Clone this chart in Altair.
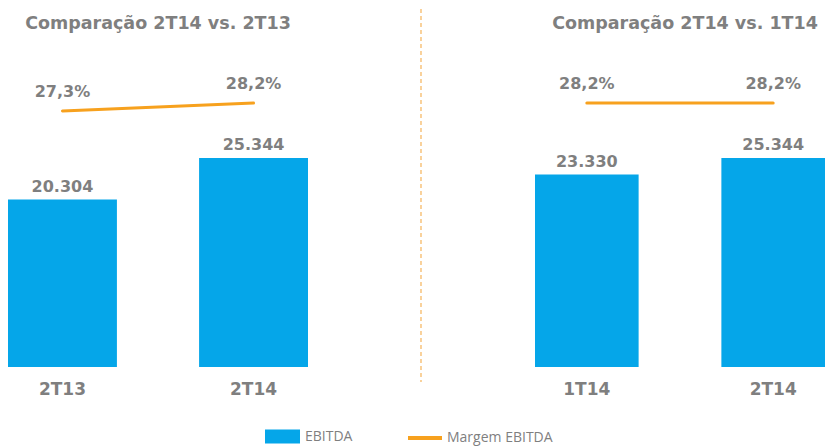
import altair as alt
import pandas as pd

# ---- data ----
left_title = "Comparação 2T14 vs. 2T13"
left_cats = ["2T13", "2T14"]
left_ebitda = [20304, 25344]
left_margem = [27.3, 28.2]

right_title = "Comparação 2T14 vs. 1T14"
right_cats = ["1T14", "2T14"]
right_ebitda = [23330, 25344]
right_margem = [28.2, 28.2]

series = ["EBITDA", "Margem EBITDA"]

BLUE = "#05A6E9"
ORANGE = "#F7A11E"
GRAY = "#7f7f7f"
FONT = "DejaVu Sans"

BAR_DOMAIN = [0, 37109]
LINE_DOMAIN = [-1.46, 32.92]
PLOT_H = 306

RECT = "M-1,-0.4L1,-0.4L1,0.4L-1,0.4Z"

common_leg = dict(orient="none", direction="horizontal", title=None,
                  labelFont="Open Sans", labelFontSize=14, labelColor=GRAY,
                  padding=0)
bar_legend = alt.Legend(legendX=257, legendY=358, symbolSize=1225, symbolType=RECT,
                        symbolStrokeWidth=0, symbolOpacity=1, labelOffset=5, **common_leg)
line_legend = alt.Legend(legendX=398, legendY=358, symbolSize=1156, symbolType="stroke",
                         symbolStrokeWidth=4, symbolOpacity=1, labelOffset=3, **common_leg)

fill_scale = alt.Scale(domain=[series[0]], range=[BLUE])
stroke_scale = alt.Scale(domain=[series[1]], range=[ORANGE])


def fmt_int(v):
    return f"{v:,}".replace(",", ".")


def fmt_pct(v):
    return f"{v:.1f}".replace(".", ",") + "%"


def panel(title, cats, ebitda, margem, width, pad_inner, title_dx):
    df = pd.DataFrame({
        "cat": cats,
        "ebitda": ebitda,
        "margem": margem,
        "ebitda_lbl": [fmt_int(v) for v in ebitda],
        "margem_lbl": [fmt_pct(v) for v in margem],
        "s_bar": [series[0]] * len(cats),
        "s_line": [series[1]] * len(cats),
    })
    x = alt.X("cat:N", sort=cats, title=None,
              scale=alt.Scale(paddingInner=pad_inner, paddingOuter=0),
              axis=alt.Axis(domain=False, ticks=False, labelAngle=0,
                            labelFont=FONT, labelFontSize=17, labelFontWeight="bold",
                            labelColor=GRAY, labelPadding=14))
    base = alt.Chart(df)
    bars = base.mark_bar().encode(
        x=x,
        y=alt.Y("ebitda:Q", scale=alt.Scale(domain=BAR_DOMAIN), axis=None),
        fill=alt.Fill("s_bar:N", scale=fill_scale, legend=bar_legend),
    )
    bar_txt = base.mark_text(font=FONT, fontSize=16, fontWeight="bold", color=GRAY,
                             baseline="bottom", dy=-5).encode(
        x=x,
        y=alt.Y("ebitda:Q", scale=alt.Scale(domain=BAR_DOMAIN), axis=None),
        text="ebitda_lbl:N",
    )
    line = base.mark_line(strokeWidth=3, strokeCap="round").encode(
        x=x,
        y=alt.Y("margem:Q", scale=alt.Scale(domain=LINE_DOMAIN), axis=None),
        stroke=alt.Stroke("s_line:N", scale=stroke_scale, legend=line_legend),
    )
    line_txt = base.mark_text(font=FONT, fontSize=16, fontWeight="bold", color=GRAY,
                              baseline="bottom", dy=-11).encode(
        x=x,
        y=alt.Y("margem:Q", scale=alt.Scale(domain=LINE_DOMAIN), axis=None),
        text="margem_lbl:N",
    )
    return alt.layer(alt.layer(bars, bar_txt), alt.layer(line, line_txt)).resolve_scale(
        y="independent").properties(
        width=width, height=PLOT_H,
        title=alt.TitleParams(title, font=FONT, fontSize=17.5, fontWeight="bold",
                              color=GRAY, anchor="middle", offset=29, dx=title_dx),
    )


left = panel(left_title, left_cats, left_ebitda, left_margem, 300, 0.43, 0)
right = panel(right_title, right_cats, right_ebitda, right_margem, 290, 0.444, 5)

divider = alt.Chart(pd.DataFrame({"k": [0]})).mark_rule(
    color="#F5B45A", strokeDash=[4, 3], strokeWidth=1.2).encode(
    x=alt.value(0), y=alt.value(-52), y2=alt.value(321)
).properties(width=1, height=PLOT_H)

chart = alt.hconcat(left, divider, right, spacing=113, bounds="flush").resolve_scale(
    x="independent", y="independent", fill="shared", stroke="shared"
).properties(padding=0).configure_view(stroke=None)

chart.save("out.html", embed_options={"renderer": "svg", "actions": False})
